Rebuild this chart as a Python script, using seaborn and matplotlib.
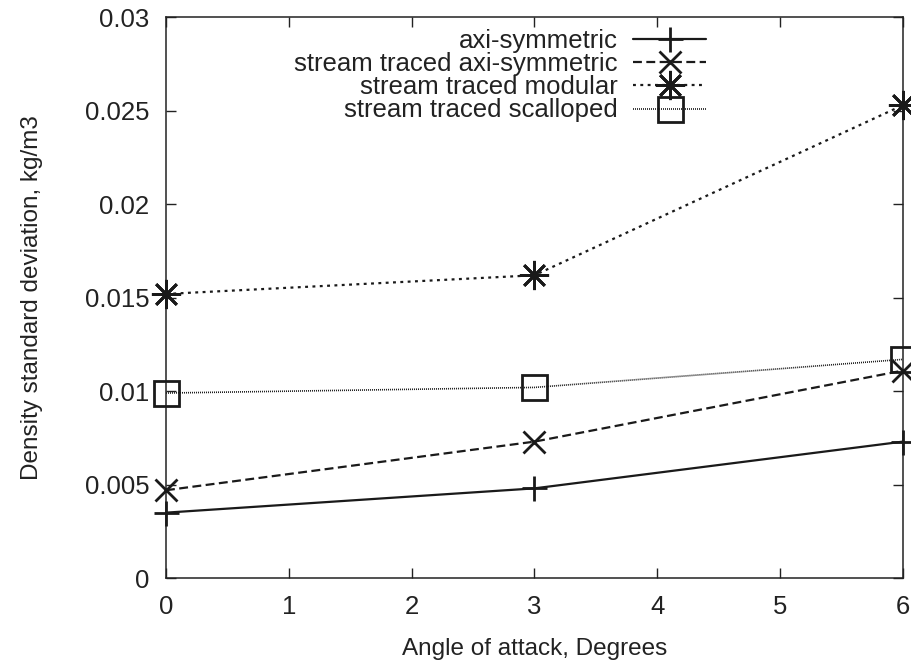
import matplotlib
matplotlib.use("Agg")
import matplotlib.pyplot as plt
import seaborn as sns
import pandas as pd

angles = [0, 3, 6]
axi_symmetric = [0.0035, 0.0048, 0.0073]
st_axi_symmetric = [0.0047, 0.0073, 0.0111]
st_modular = [0.0152, 0.0162, 0.0253]
st_scalloped = [0.0099, 0.0102, 0.0117]
series_names = ["axi-symmetric", "stream traced axi-symmetric",
                "stream traced modular", "stream traced scalloped"]
x_ticks = [0, 1, 2, 3, 4, 5, 6]
y_ticks = [0, 0.005, 0.01, 0.015, 0.02, 0.025, 0.03]
y_ticklabels = ["0", "0.005", "0.01", "0.015", "0.02", "0.025", "0.03"]

sns.set_theme(style="ticks")
plt.rcParams["font.family"] = ["Liberation Sans", "DejaVu Sans"]

df = pd.DataFrame({
    "angle": angles * 4,
    "value": axi_symmetric + st_axi_symmetric + st_modular + st_scalloped,
    "series": sum([[n] * len(angles) for n in series_names], []),
})

fig = plt.figure(figsize=(9.12, 6.66), dpi=100)
ax = fig.add_axes([0.182, 0.132, 0.808, 0.842])

styles = {
    series_names[0]: dict(marker="+", markersize=18, linestyle="-"),
    series_names[1]: dict(marker="x", markersize=16, linestyle=(0, (4, 2))),
    series_names[2]: dict(marker=(8, 2, 0), markersize=21, linestyle=(0, (1.3, 2))),
    series_names[3]: dict(marker="s", markersize=18, linestyle=(0, (0.6, 0.6))),
}
lws = {series_names[0]: 1.6, series_names[1]: 1.6, series_names[2]: 1.6, series_names[3]: 1.2}

for name in series_names:
    sub = df[df["series"] == name]
    sns.lineplot(data=sub, x="angle", y="value", ax=ax, color="#1a1a1a",
                 label=name, linewidth=lws[name], markeredgewidth=2,
                 fillstyle="none", markeredgecolor="#1a1a1a", clip_on=False,
                 zorder=3, **styles[name])

ax.set_xlim(0, 6)
ax.set_ylim(0, 0.03)
ax.set_xticks(x_ticks)
ax.set_xticklabels([str(t) for t in x_ticks])
ax.set_yticks(y_ticks)
ax.set_yticklabels(y_ticklabels)
ax.tick_params(direction="in", length=7, width=1, top=True, right=True,
               labelsize=18.5, colors="#222222")
ax.tick_params(axis="x", pad=12)
ax.tick_params(axis="y", pad=12)
for s in ax.spines.values():
    s.set_linewidth(1.1)
    s.set_color("#222222")
ax.set_xlabel("Angle of attack, Degrees", fontsize=17.5, color="#222222", labelpad=14)
ax.set_ylabel("Density standard deviation, kg/m3", fontsize=17.5, color="#222222", labelpad=30)

leg = ax.legend(loc="upper right", bbox_to_anchor=(0.754, 1.007), frameon=False,
                markerfirst=False, fontsize=18.5, handlelength=2.85,
                handletextpad=0.6, labelspacing=-0.03, borderpad=0.1)
for t in leg.get_texts():
    t.set_color("#222222")

fig.savefig("out.png", dpi=100)
